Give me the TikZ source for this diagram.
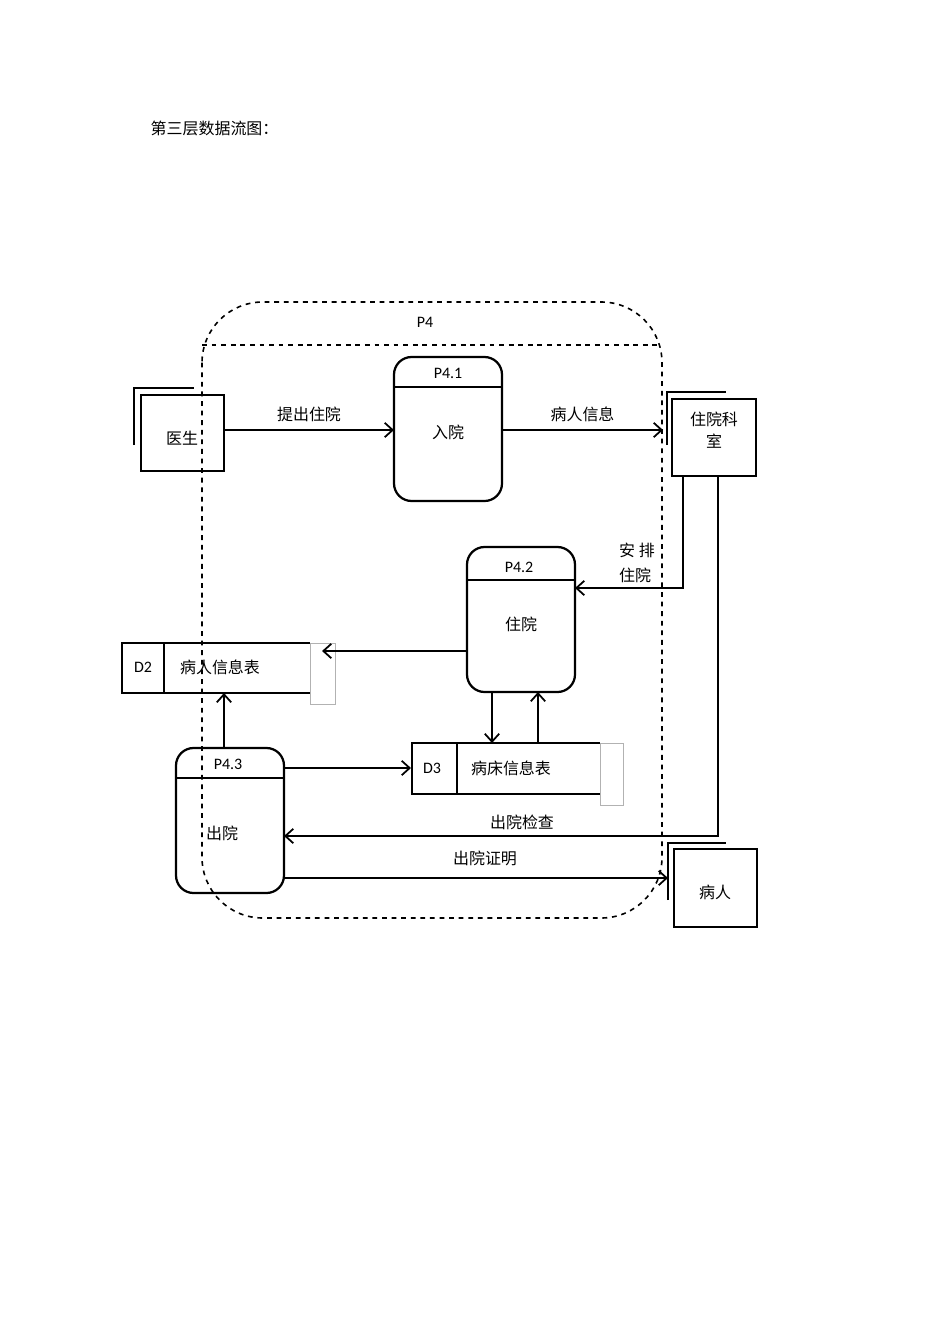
\documentclass[tikz,border=0pt]{standalone}
\usepackage{fontspec}
\setmainfont{Carlito}
\newfontfamily\cjk{Noto Sans CJK SC}
\usetikzlibrary{arrows.meta}
\begin{document}
\begin{tikzpicture}[x=0.626pt,y=-0.626pt,
  font=\fontsize{10}{12}\selectfont,
  box/.style={draw,line width=1.5pt},
  shadow/.style={line width=1.1pt},
  proc/.style={draw,line width=1.4pt,rounded corners=11pt},
  flow/.style={line width=1.1pt,-{Straight Barb[length=5pt,width=9pt]}},
  txt/.style={font=\cjk\fontsize{10}{12}\selectfont}]
\useasboundingbox (0,0) rectangle (950,1344);
\node[txt,anchor=west] (title) at (145,128) {第三层数据流图：};
% P4 boundary
\draw[dashed,line width=1pt,rounded corners=38pt] (202,302) rectangle (662,918);
\draw[dashed,line width=1pt] (202,345) -- (662,345);
\node (p4) at (425,322) {P4};
% 医生
\draw[shadow] (134,445) -- (134,388) -- (194,388);
\draw[box] (141,395) rectangle (224,471);
\node[txt] (doc) at (182,438) {医生};
\coordinate (docE) at (224,430);
% P4.1
\draw[proc] (394,357) rectangle (502,501);
\draw[line width=1pt] (394,387) -- (502,387);
\node (p41) at (448,373) {P4.1};
\node[txt] at (448,432) {入院};
\coordinate (p41W) at (394,430);
\coordinate (p41E) at (502,430);
% 住院科室
\draw[shadow] (667,445) -- (667,392) -- (726,392);
\draw[box] (672,399) rectangle (756,476);
\node[txt,align=center] (dept) at (714,430) {住院科\\[2pt]室};
\coordinate (deptW) at (663,430);
% P4.2
\draw[proc] (467,547) rectangle (575,692);
\draw[line width=1pt] (467,580) -- (575,580);
\node (p42) at (519,567) {P4.2};
\node[txt] at (521,624) {住院};
% D2
\draw[draw=gray!60,line width=0.5pt] (310,643) rectangle (335,704);
\draw[line width=1.2pt] (310,643) -- (122,643) -- (122,693) -- (310,693);
\draw[line width=1.2pt] (164,643) -- (164,693);
\node (d2) at (143,667) {D2};
\node[txt] at (220,667) {病人信息表};
% D3
\draw[draw=gray!60,line width=0.5pt] (600,743) rectangle (623,805);
\draw[line width=1.2pt] (600,743) -- (412,743) -- (412,794) -- (600,794);
\draw[line width=1.2pt] (457,743) -- (457,794);
\node (d3) at (432,768) {D3};
\node[txt] at (511,768) {病床信息表};
% P4.3
\draw[proc] (176,748) rectangle (284,893);
\draw[line width=1pt] (176,778) -- (284,778);
\node (p43) at (228,764) {P4.3};
\node[txt] at (222,833) {出院};
% 病人
\draw[shadow] (668,900) -- (668,843) -- (726,843);
\draw[box] (674,849) rectangle (757,927);
\node[txt] (pat) at (715,892) {病人};
% flows
\draw[flow] (docE) -- node[txt,above=1pt]{提出住院} (p41W);
\draw[flow] (p41E) -- node[txt,above=1pt]{病人信息} (deptW);
\draw[flow] (683,476) -- (683,588) -- (575,588);
\node[txt] at (637,550) {安 排};
\node[txt] at (635,575) {住院};
\draw[flow] (467,651) -- (322,651);
\draw[flow] (224,748) -- (224,693);
\draw[flow] (284,768) -- (411,768);
\draw[flow] (492,692) -- (492,743);
\draw[flow] (538,743) -- (538,692);
\draw[flow] (718,476) -- (718,836) -- (284,836);
\node[txt] at (522,822) {出院检查};
\draw[flow] (284,878) -- (668,878);
\node[txt] at (485,858) {出院证明};
\end{tikzpicture}
\end{document}
